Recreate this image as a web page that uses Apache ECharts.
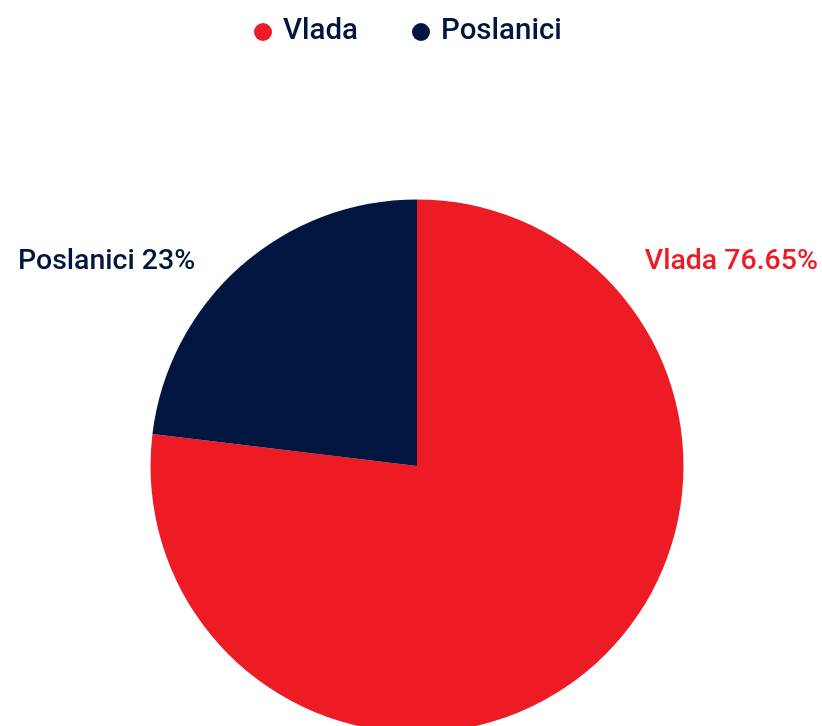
<!DOCTYPE html>
<html><head><meta charset="utf-8">
<script src="https://cdn.jsdelivr.net/npm/echarts@6/dist/echarts.min.js"></script>
<style>html,body{margin:0;padding:0;background:#fff}#c{width:822px;height:726px}</style>
</head><body><div id="c"></div>
<script>
const categories = ['Vlada', 'Poslanici'];
const values = [76.65, 23];
const colors = ['#ED1C24', '#001540'];

const chart = echarts.init(document.getElementById('c'));
chart.setOption({
  animation: false,
  color: colors,
  legend: {
    top: 12, left: 249, icon: 'circle', itemWidth: 18, itemHeight: 18, itemGap: 54,
    textStyle: { fontFamily: 'Roboto', fontWeight: 500, fontSize: 29.5, color: '#001540', padding: [0, 0, 0, 6] },
    data: categories
  },
  series: [{
    type: 'pie',
    center: [417, 466],
    radius: [0, 266.5],
    startAngle: 90,
    clockwise: true,
    data: categories.map((c, i) => ({ name: c, value: values[i], label: { color: colors[i] } })),
    label: {
      show: true, position: 'outside',
      formatter: p => p.name + ' ' + p.value + '%',
      fontFamily: 'Roboto', fontWeight: 500, fontSize: 28.5
    },
    labelLine: { show: false },
    labelLayout: function (p) {
      return p.dataIndex === 0
        ? { x: 818, y: 262, align: 'right', verticalAlign: 'middle' }
        : { x: 18, y: 262, align: 'left', verticalAlign: 'middle' };
    },
    emphasis: { disabled: true }
  }]
});
</script></body></html>
